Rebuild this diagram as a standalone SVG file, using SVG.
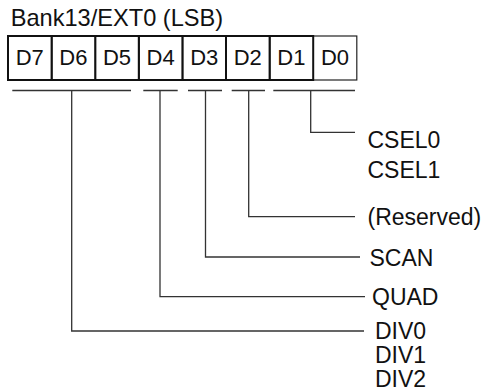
<svg xmlns="http://www.w3.org/2000/svg" width="486" height="392" viewBox="0 0 486 392">
<style>
text{font-family:"Liberation Sans",Arial,sans-serif;fill:#111}
.t{font-size:23.6px}
.b{font-size:22px;text-anchor:middle}
.l{font-size:23px}
.box{fill:#fff;stroke:#111;stroke-width:2}
.box0{fill:#fff;stroke:#222;stroke-width:1.2}
.c{fill:none;stroke:#333;stroke-width:1.3}
</style>
<rect width="486" height="392" fill="#fff"/>
<text class="t" x="10.7" y="26">Bank13/EXT0 (LSB)</text>
<g id="register">
<g id="bit-D0"><rect class="box0" x="313.2" y="36" width="43.6" height="44"/><text class="b" x="335" y="65">D0</text></g>
<g id="bit-D1"><rect class="box" x="269.6" y="36" width="43.6" height="44"/><text class="b" x="291.4" y="65">D1</text></g>
<g id="bit-D2"><rect class="box" x="226" y="36" width="43.6" height="44"/><text class="b" x="247.8" y="65">D2</text></g>
<g id="bit-D3"><rect class="box" x="182.4" y="36" width="43.6" height="44"/><text class="b" x="204.2" y="65">D3</text></g>
<g id="bit-D4"><rect class="box" x="138.8" y="36" width="43.6" height="44"/><text class="b" x="160.6" y="65">D4</text></g>
<g id="bit-D5"><rect class="box" x="95.2" y="36" width="43.6" height="44"/><text class="b" x="117" y="65">D5</text></g>
<g id="bit-D6"><rect class="box" x="51.6" y="36" width="43.6" height="44"/><text class="b" x="73.4" y="65">D6</text></g>
<g id="bit-D7"><rect class="box" x="8" y="36" width="43.6" height="44"/><text class="b" x="29.8" y="65">D7</text></g>
</g>
<g id="connectors">
<path class="c" d="M12.3 90.5H131M143.3 90.5H177.7M188 90.5H222M231.7 90.5H265M273.3 90.5H355"/>
<path class="c" d="M71.7 90.5V331H364"/>
<path class="c" d="M160 90.5V296.7H365"/>
<path class="c" d="M205.5 90.5V257H360"/>
<path class="c" d="M248.7 90.5V216.7H355"/>
<path class="c" d="M310.7 90.5V132.3H355"/>
</g>
<g id="label-csel"><text class="l" x="367.5" y="148">CSEL0</text><text class="l" x="367.5" y="178">CSEL1</text></g>
<g id="label-reserved"><text class="l" x="367.5" y="225">(Reserved)</text></g>
<g id="label-scan"><text class="l" x="369.5" y="266">SCAN</text></g>
<g id="label-quad"><text class="l" x="372" y="305">QUAD</text></g>
<g id="label-div"><text class="l" x="375" y="339">DIV0</text><text class="l" x="375" y="363">DIV1</text><text class="l" x="375" y="387">DIV2</text></g>
</svg>
